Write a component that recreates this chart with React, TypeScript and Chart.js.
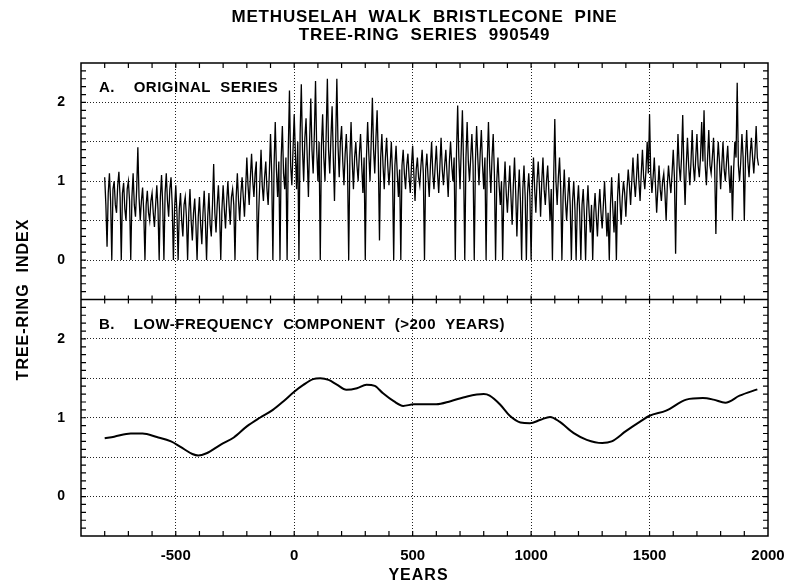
import React, { useEffect, useRef } from 'react';
import { Chart, registerables } from 'chart.js';

Chart.register(...registerables);

const FONT = "'Liberation Sans', Arial, Helvetica, sans-serif";

const titleLines = ['METHUSELAH  WALK  BRISTLECONE  PINE', 'TREE-RING  SERIES  990549'];
const panelALabel = 'A.    ORIGINAL  SERIES';
const panelBLabel = 'B.    LOW-FREQUENCY  COMPONENT  (>200  YEARS)';
const xAxisTitle = 'YEARS';
const yAxisTitle = 'TREE-RING  INDEX';

const yearMin = -900;
const yearMax = 2000;
const xTickValues = [-500, 0, 500, 1000, 1500, 2000];
const indexMin = -0.5;
const indexMax = 2.5;
const yTickLabels = ['0', '1', '2'];

// Panel A: original series, every 5 years (from -800)
const originalStartYear = -800;
const originalStepYears = 5;
const originalSeries = [
  1.05, 0.7, 0.17, 0.85, 1.1, 0.75, 0, 0.9, 1.0, 0.7, 0.6, 0.95, 1.12, 0.8, 0, 0.85, 0.98, 0.65, 0.5, 0.9,
  1.0, 0.75, 0, 0.8, 1.1, 0.7, 0.55, 0.9, 1.43, 0.8, 0.5, 0.75, 0.92, 0.6, 0, 0.7, 0.88, 0.6, 0.5, 0.75,
  0.85, 0.6, 0.42, 0.7, 0.95, 0.65, 0, 0.8, 1.08, 0.7, 0, 0.85, 1.1, 0.75, 0.55, 0.9, 1.05, 0.7, 0, 0.65,
  0.95, 0.6, 0, 0.65, 0.85, 0.5, 0.3, 0.7, 0.8, 0.55, 0, 0.6, 0.9, 0.5, 0.25, 0.6, 0.78, 0.45, 0, 0.55,
  0.8, 0.45, 0.2, 0.6, 0.88, 0.5, 0, 0.55, 0.85, 0.45, 0.3, 0.7, 1.22, 0.6, 0.35, 0.7, 0.95, 0.6, 0, 0.65,
  0.95, 0.65, 0.4, 0.75, 1.0, 0.7, 0.45, 0.8, 0.9, 0.7, 0, 0.8, 1.1, 0.75, 0.5, 0.85, 1.05, 0.8, 0.55, 0.9,
  1.3, 0.95, 0.7, 1.05, 1.35, 1.0, 0.8, 1.1, 1.25, 0, 0.6, 1.0, 1.4, 0.95, 0.75, 1.05, 1.25, 0.9, 0.7, 1.1,
  1.6, 1.1, 0, 1.2, 1.75, 1.15, 0.8, 1.25, 0, 1.3, 1.7, 1.1, 0.9, 1.3, 0, 1.4, 2.15, 1.2, 0.95, 1.4,
  1.85, 1.35, 0.9, 1.5, 0, 1.6, 2.23, 1.4, 1.0, 1.55, 1.8, 1.3, 0.8, 1.5, 2.05, 1.4, 1.1, 1.6, 2.27, 1.4,
  1.0, 1.5, 0, 1.45, 1.85, 1.3, 1.0, 1.6, 2.3, 1.4, 1.1, 1.55, 1.95, 1.3, 0.75, 1.5, 2.3, 1.45, 1.05, 1.5,
  1.7, 1.25, 0.95, 1.35, 1.6, 1.2, 0, 1.3, 1.75, 1.25, 0.9, 1.3, 1.5, 1.2, 1.0, 1.35, 1.6, 1.2, 0.85, 1.3,
  0, 1.3, 1.75, 1.35, 1.0, 1.5, 2.06, 1.4, 1.1, 1.55, 1.9, 1.3, 0.25, 1.3, 1.6, 1.2, 0.9, 1.3, 1.55, 1.2,
  0.95, 1.2, 1.5, 1.1, 0, 1.2, 1.45, 1.1, 0.8, 1.15, 0, 1.2, 1.4, 1.1, 0.9, 1.2, 1.35, 1.05, 0.85, 1.2,
  1.45, 1.1, 0.75, 1.15, 1.3, 1.05, 0.95, 1.2, 1.4, 1.1, 0, 1.15, 1.35, 1.05, 0.8, 1.2, 1.5, 1.1, 0.9, 1.2,
  1.45, 1.1, 0.85, 1.2, 1.55, 1.15, 0.95, 1.2, 1.4, 1.1, 0.8, 1.25, 1.5, 1.2, 1.0, 1.3, 0, 1.35, 1.96, 1.3,
  0.9, 1.4, 1.9, 1.2, 0, 1.3, 1.75, 1.25, 1.0, 1.3, 1.6, 1.2, 0, 1.25, 1.7, 1.3, 0.95, 1.35, 1.65, 1.2,
  0.9, 1.3, 0, 1.25, 1.75, 1.2, 0.85, 1.3, 1.6, 1.1, 0, 1.0, 1.3, 0.95, 0.7, 1.0, 0, 0.9, 1.25, 0.85,
  0.6, 0.9, 1.2, 0.8, 0.45, 0.95, 1.3, 0.85, 0.3, 0.8, 1.15, 0.75, 0, 0.9, 1.2, 0.8, 0, 0.85, 1.1, 0.8,
  0, 0.95, 1.3, 0.9, 0.6, 1.0, 1.25, 0.95, 0.55, 1.0, 1.3, 0.9, 0.7, 1.0, 1.2, 0.85, 0.5, 0.9, 0, 1.0,
  1.79, 1.0, 0.7, 1.05, 1.3, 0.9, 0, 0.8, 1.15, 0.75, 0.5, 0.8, 1.05, 0.7, 0, 0.75, 1.0, 0.65, 0, 0.7,
  0.95, 0.6, 0, 0.7, 0.9, 0.55, 0, 0.65, 0.95, 0.6, 0.35, 0.7, 0, 0.6, 0.85, 0.55, 0.3, 0.65, 0.9, 0.6,
  0.4, 0.7, 1.0, 0.65, 0.3, 0.6, 0, 0.7, 1.05, 0.65, 0.35, 0.75, 0, 0.8, 1.1, 0.75, 0.45, 0.8, 1.0, 0.85,
  0.55, 0.9, 1.15, 0.95, 0.7, 1.0, 1.3, 1.0, 0.8, 1.05, 1.35, 1.0, 0.75, 1.1, 1.4, 1.05, 0.9, 1.15, 1.5, 1.1,
  1.85, 1.1, 0.85, 1.05, 1.3, 0.95, 0.6, 0.9, 1.2, 0.9, 0.75, 1.0, 1.1, 0.85, 0.5, 0.95, 1.2, 1.0, 0.85, 1.1,
  1.4, 1.05, 0.08, 1.1, 1.6, 1.2, 1.0, 1.3, 1.84, 1.15, 0.7, 1.2, 1.55, 1.2, 0.95, 1.25, 1.65, 1.2, 1.0, 1.3,
  1.6, 1.2, 1.05, 1.3, 1.75, 1.25, 1.9, 1.2, 0.95, 1.3, 1.65, 1.2, 1.1, 1.3, 1.55, 1.15, 0.33, 1.2, 1.5, 1.25,
  0.9, 1.2, 1.5, 1.15, 1.0, 1.25, 1.45, 1.1, 0.85, 1.2, 0.5, 1.15, 1.5, 1.3, 2.25, 1.2, 1.0, 1.25, 1.6, 1.3,
  0.5, 1.3, 1.65, 1.25, 1.05, 1.35, 1.55, 1.3, 1.1, 1.35, 1.7, 1.3, 1.2,
];

// Panel B: low-frequency component (>200 years)
const lowFreqYears = [
  -800, -760, -690, -640, -580, -520, -480, -430, -405, -370, -310, -255, -200, -145, -90, -45, 0,
  40, 80, 110, 145, 180, 220, 265, 305, 340, 375, 420, 460, 505, 560, 600, 660, 730, 800, 825,
  870, 910, 955, 995, 1040, 1080, 1120, 1180, 1235, 1300, 1340, 1400, 1460, 1500, 1570, 1655,
  1725, 1770, 1820, 1880, 1955,
];
const lowFreqValues = [
  0.74, 0.76, 0.8, 0.8, 0.755, 0.7, 0.63, 0.54, 0.52, 0.55, 0.66, 0.75, 0.89, 1.0, 1.1, 1.21, 1.33,
  1.42, 1.49, 1.5, 1.48, 1.42, 1.355, 1.375, 1.42, 1.405, 1.31, 1.21, 1.15, 1.17, 1.17, 1.17, 1.21, 1.27, 1.3, 1.28,
  1.165, 1.025, 0.94, 0.93, 0.975, 1.01, 0.95, 0.805, 0.72, 0.68, 0.7, 0.83, 0.95, 1.025, 1.09, 1.23,
  1.25, 1.23, 1.19, 1.28, 1.36,
];

const originalPoints = originalSeries.map((v, i) => ({ x: originalStartYear + i * originalStepYears, y: v }));
const lowFreqPoints = lowFreqYears.map((yr, i) => ({ x: yr, y: lowFreqValues[i] }));

const minorYearTicks: number[] = [];
for (let yr = -800; yr < yearMax; yr += 100) minorYearTicks.push(yr);
const minorIndexTicks: number[] = [];
for (let k = -4; k <= 24; k++) minorIndexTicks.push(k / 10);

function drawText(ctx: CanvasRenderingContext2D, text: string, x: number, y: number, font: string, align: CanvasTextAlign, spacing: string) {
  ctx.font = font;
  (ctx as any).letterSpacing = spacing;
  ctx.textAlign = align;
  ctx.textBaseline = 'alphabetic';
  ctx.fillText(text, x, y);
}

const framePlugin = {
  id: 'frame',
  afterDatasetsDraw(chart: any) {
    const { ctx, chartArea: ca, scales } = chart;
    const x = scales.x;
    const ya = scales.yA;
    const yb = scales.yB;
    const topScale = ya.top < yb.top ? ya : yb;
    const sepY = topScale.bottom;
    ctx.save();
    ctx.strokeStyle = '#000';
    ctx.lineWidth = 1.5;
    ctx.strokeRect(ca.left, ca.top, ca.right - ca.left, ca.bottom - ca.top);
    ctx.beginPath();
    ctx.moveTo(ca.left, sepY);
    ctx.lineTo(ca.right, sepY);
    ctx.stroke();
    ctx.lineWidth = 1.2;
    ctx.beginPath();
    for (const yr of minorYearTicks) {
      const px = x.getPixelForValue(yr);
      ctx.moveTo(px, ca.top);
      ctx.lineTo(px, ca.top + 5);
      ctx.moveTo(px, ca.bottom);
      ctx.lineTo(px, ca.bottom - 5);
      ctx.moveTo(px, sepY - 4);
      ctx.lineTo(px, sepY + 4);
    }
    for (const s of [ya, yb]) {
      for (const v of minorIndexTicks) {
        const py = s.getPixelForValue(v);
        ctx.moveTo(ca.left, py);
        ctx.lineTo(ca.left + 5, py);
        ctx.moveTo(ca.right, py);
        ctx.lineTo(ca.right - 5, py);
      }
    }
    ctx.stroke();

    ctx.fillStyle = '#000';
    const cx = (ca.left + ca.right) / 2;
    drawText(ctx, titleLines[0], cx, 22, `bold 17px ${FONT}`, 'center', '0.8px');
    drawText(ctx, titleLines[1], cx, 40, `bold 17px ${FONT}`, 'center', '0.8px');
    drawText(ctx, panelALabel, ca.left + 18, ya.top + 29, `bold 15px ${FONT}`, 'left', '0.5px');
    drawText(ctx, panelBLabel, ca.left + 18, yb.top + 29, `bold 15px ${FONT}`, 'left', '0.5px');
    drawText(ctx, xAxisTitle, cx - 6, 580, `bold 16px ${FONT}`, 'center', '1px');
    ctx.save();
    ctx.translate(28, (ca.top + ca.bottom) / 2);
    ctx.rotate(-Math.PI / 2);
    drawText(ctx, yAxisTitle, 0, 0, `bold 16px ${FONT}`, 'center', '1px');
    ctx.restore();
    ctx.restore();
  },
};

const gridColor = (c: any) => {
  const v = c.tick ? c.tick.value : 0;
  return v <= indexMin + 1e-6 || v >= indexMax - 1e-6 ? 'rgba(0,0,0,0)' : '#222';
};

const yScale = (): any => ({
  type: 'linear',
  position: 'left',
  stack: 'panels',
  stackWeight: 1,
  min: indexMin,
  max: indexMax,
  border: { display: false, dash: [1, 2] },
  grid: { color: gridColor, lineWidth: 1, drawTicks: false },
  ticks: {
    stepSize: 0.5,
    padding: 16,
    color: '#000',
    font: { family: FONT, size: 14, weight: 'bold' },
    callback: (v: number) => {
      const lbl = String(Math.round(v));
      return Math.abs(v - Math.round(v)) < 1e-6 && yTickLabels.includes(lbl) ? lbl : '';
    },
  },
  afterFit: (s: any) => {
    s.width = 40;
  },
});

export default function App() {
  const canvasRef = useRef<HTMLCanvasElement | null>(null);

  useEffect(() => {
    if (!canvasRef.current) return;
    const chart = new Chart(canvasRef.current, {
      type: 'line',
      data: {
        datasets: [
          {
            label: 'Original series',
            data: originalPoints,
            yAxisID: 'yA',
            borderColor: '#000',
            borderWidth: 1.3,
            pointRadius: 0,
            tension: 0,
            fill: false,
          },
          {
            label: 'Low-frequency component',
            data: lowFreqPoints,
            yAxisID: 'yB',
            borderColor: '#000',
            borderWidth: 2,
            pointRadius: 0,
            tension: 0.4,
            cubicInterpolationMode: 'monotone',
            fill: false,
          },
        ],
      },
      options: {
        animation: false,
        responsive: true,
        maintainAspectRatio: false,
        layout: { padding: { left: 41, right: 18, top: 63, bottom: 0 } },
        plugins: { legend: { display: false }, tooltip: { enabled: false }, title: { display: false } },
        scales: {
          x: {
            type: 'linear',
            min: yearMin,
            max: yearMax,
            border: { display: false, dash: [1, 2] },
            grid: {
              color: (c: any) => (c.tick && (c.tick.value <= yearMin || c.tick.value >= yearMax) ? 'rgba(0,0,0,0)' : '#222'),
              lineWidth: 1,
              drawTicks: false,
            },
            afterBuildTicks: (s: any) => {
              s.ticks = xTickValues.map((v) => ({ value: v }));
            },
            ticks: {
              padding: 11,
              maxRotation: 0,
              autoSkip: false,
              color: '#000',
              font: { family: FONT, size: 15, weight: 'bold' },
              callback: (v: number) => String(v),
            },
            afterFit: (s: any) => {
              s.height = 48;
              s.paddingLeft = 0;
              s.paddingRight = 0;
            },
          },
          yB: yScale(),
          yA: yScale(),
        },
      } as any,
      plugins: [framePlugin],
    });
    return () => chart.destroy();
  }, []);

  return (
    <div style={{ position: 'fixed', left: 0, top: 0, width: 786, height: 584, background: '#fff' }}>
      <canvas ref={canvasRef} />
    </div>
  );
}
